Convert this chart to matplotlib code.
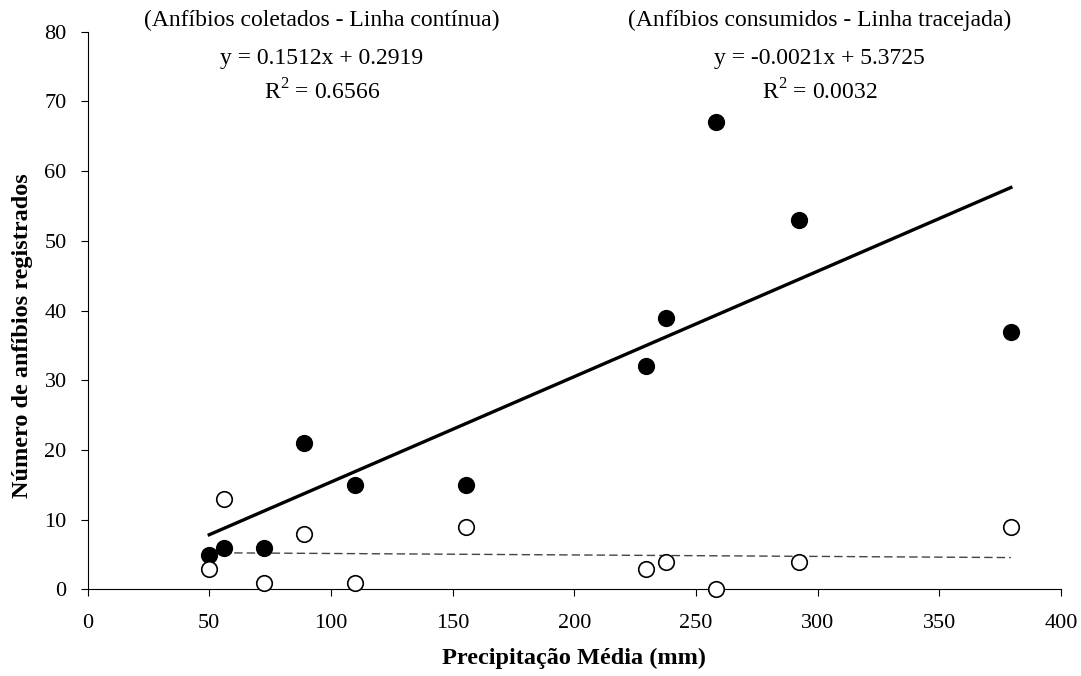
import matplotlib.pyplot as plt

plt.rcParams['font.family'] = ['Liberation Serif', 'DejaVu Serif']
plt.rcParams['mathtext.fontset'] = 'custom'
plt.rcParams['mathtext.rm'] = 'Liberation Serif'

precip = [50, 56, 72.6, 89, 110, 155.5, 229.3, 237.8, 258.2, 292.3, 379.4]
coletados = [5, 6, 6, 21, 15, 15, 32, 39, 67, 53, 37]
consumidos = [3, 13, 1, 8, 1, 9, 3, 4, 0, 4, 9]

# regression equations printed on the chart
a1, b1 = 0.1512, 0.2919
a2, b2 = -0.0021, 5.3725

fig = plt.figure(figsize=(10.81, 6.76), dpi=100)
ax = fig.add_axes([0.081, 0.128, 0.9005, 0.825])

xs = [min(precip), max(precip)]
ax.plot(xs, [a1 * x + b1 for x in xs], color='black', lw=2.4, zorder=2)
ax.plot(xs, [a2 * x + b2 for x in xs], color='#444444', lw=1, ls=(0, (6, 3)), zorder=2)

ax.scatter(precip, coletados, s=130, color='black', zorder=3)
ax.scatter(precip, consumidos, s=125, facecolor='white', edgecolor='black', lw=1.2, zorder=3, clip_on=False)

ax.set_xlim(0, 400)
ax.set_ylim(0, 80)
ax.set_xticks(range(0, 401, 50))
ax.set_yticks(range(0, 81, 10))
ax.tick_params(direction='out', length=5, labelsize=16, colors='black')
ax.tick_params(axis='x', pad=13)
ax.tick_params(axis='y', pad=10)
for s in ['top', 'right']:
    ax.spines[s].set_visible(False)

ax.set_xlabel('Precipitação Média (mm)', fontsize=17.5, fontweight='bold', labelpad=10)
ax.set_ylabel('Número de anfíbios registrados', fontsize=17.5, fontweight='bold')
ax.yaxis.set_label_coords(-0.056, 0.455)

fs = 17
ax.text(96.3, 81.6, '(Anfíbios coletados - Linha contínua)', ha='center', va='center', fontsize=fs, clip_on=False)
ax.text(96.3, 76.2, 'y = 0.1512x + 0.2919', ha='center', va='center', fontsize=fs, clip_on=False)
ax.text(96.3, 71.4, r'R$^{2}$ = 0.6566', ha='center', va='center', fontsize=fs, clip_on=False)
ax.text(300.9, 81.6, '(Anfíbios consumidos - Linha tracejada)', ha='center', va='center', fontsize=fs, clip_on=False)
ax.text(300.9, 76.2, 'y = -0.0021x + 5.3725', ha='center', va='center', fontsize=fs, clip_on=False)
ax.text(300.9, 71.4, r'R$^{2}$ = 0.0032', ha='center', va='center', fontsize=fs, clip_on=False)

fig.savefig('out.png', dpi=100)
